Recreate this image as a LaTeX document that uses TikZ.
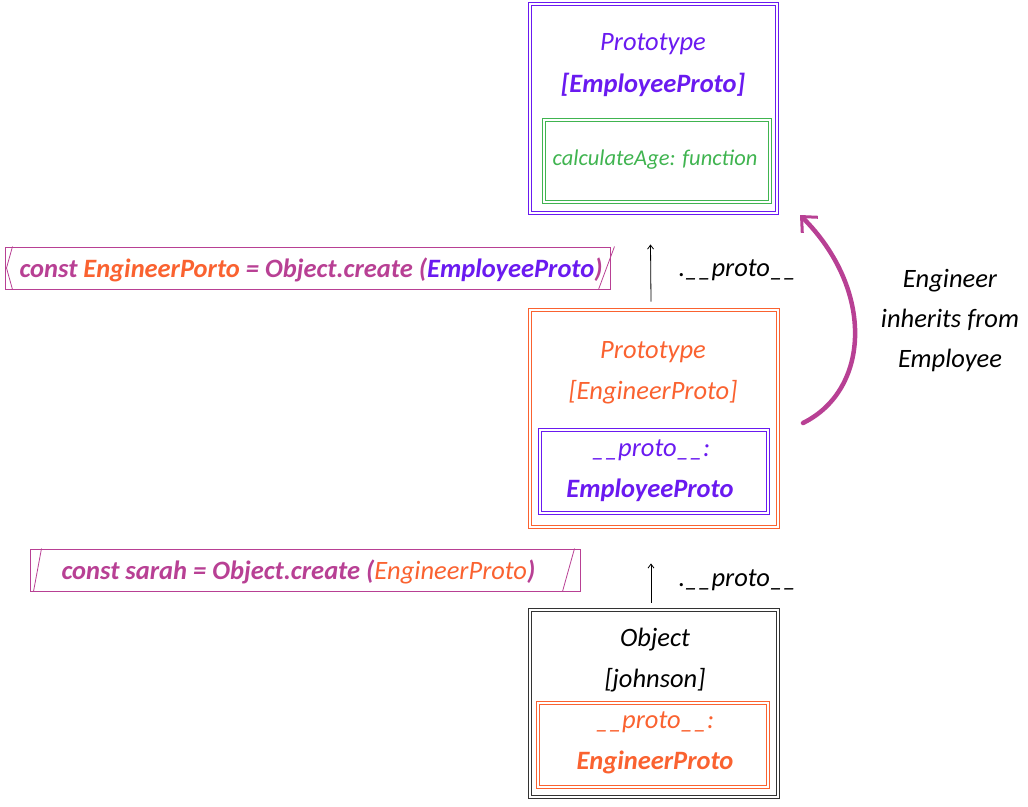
\documentclass[tikz,border=0pt]{standalone}
\usepackage{fontspec}
\setmainfont{Carlito}
\usetikzlibrary{positioning,arrows.meta}

\definecolor{protoviolet}{RGB}{106,26,240}
\definecolor{protogreen}{RGB}{64,180,80}
\definecolor{protoorange}{RGB}{250,98,48}
\definecolor{protopink}{RGB}{184,64,148}

\tikzset{
  hand/.style={font=\fontsize{26.5}{40}\selectfont\itshape},
  small hand/.style={font=\fontsize{22.5}{30}\selectfont\itshape},
  outerbox/.style={draw,double,double distance=2pt,line width=0.9pt,inner sep=0pt},
  innerbox/.style={draw,double,double distance=1.6pt,line width=0.8pt,inner sep=0pt},
  codebar/.style={draw=protopink,line width=1pt,inner sep=0pt,minimum height=42pt},
  protoarrow/.style={-{Straight Barb[length=4pt,width=6pt]},line width=0.8pt}
}

\begin{document}
\begin{tikzpicture}[x=1pt,y=-1pt]
\useasboundingbox (0,0) rectangle (1028,806);

%top box: EmployeeProto
\node[outerbox,draw=protoviolet,minimum width=247pt,minimum height=209pt] (emp) at (653.5,108.5) {};
\node[hand,text=protoviolet] (empa) at (653,44) {Prototype};
\node[hand,text=protoviolet] (empb) at (653,85) {\bfseries [EmployeeProto]};
\node[innerbox,draw=protogreen,minimum width=226pt,minimum height=82pt] (calc) at (657,161) {};
\node[small hand,text=protogreen] (calct) at (655,160) {calculateAge: function};

%middle box: EngineerProto
\node[outerbox,draw=protoorange,minimum width=248pt,minimum height=217pt] (eng) at (654,418.5) {};
\node[hand,text=protoorange] (enga) at (653,352) {Prototype};
\node[hand,text=protoorange] (engb) at (653,392) {[EngineerProto]};
\node[innerbox,draw=protoviolet,minimum width=228pt,minimum height=83pt] (engin) at (654,471.5) {};
\node[hand,text=protoviolet] (engc) at (651,450) {\_\_proto\_\_:};
\node[hand,text=protoviolet] (engd) at (650,490) {\bfseries EmployeeProto};

%bottom box: johnson
\node[outerbox,draw=black!80,minimum width=248pt,minimum height=187pt] (obj) at (654,703.5) {};
\node[hand,text=black] (obja) at (655,640) {Object};
\node[hand,text=black] (objb) at (655,680) {[johnson]};
\node[innerbox,draw=protoorange,minimum width=230pt,minimum height=84pt] (objin) at (653,745) {};
\node[hand,text=protoorange] (objc) at (655,722) {\_\_proto\_\_:};
\node[hand,text=protoorange] (objd) at (655,762) {\bfseries EngineerProto};

%code bars
\node[codebar,minimum width=605pt] (bar1) at (307.5,268) {};
\node[hand,text=protopink,anchor=west] (bar1t) at (16,270)
  {\bfseries const \textcolor{protoorange}{EngineerPorto} = Object.create (\textcolor{protoviolet}{EmployeeProto})};
\draw[protopink,line width=0.8pt] ([xshift=8pt]bar1.north west) -- ([xshift=2pt]bar1.west) -- ([xshift=8pt]bar1.south west);
\draw[protopink,line width=0.8pt] ([xshift=-12pt]bar1.south east) -- ([xshift=4pt]bar1.north east);

\node[codebar,minimum width=550pt] (bar2) at (305,570) {};
\node[hand,text=protopink,anchor=west] (bar2t) at (58,572)
  {\bfseries const sarah = Object.create (\textcolor{protoorange}{\mdseries EngineerProto})};
\draw[protopink,line width=0.8pt] ([xshift=12pt]bar2.north west) -- ([xshift=4pt]bar2.south west);
\draw[protopink,line width=0.8pt] ([xshift=-18pt]bar2.south east) -- ([xshift=-6pt]bar2.north east);

%proto links
\draw[protoarrow] ([xshift=-3pt]eng.north) ++(0,-8) coordinate (a1) -- ([xshift=-3pt,yshift=-31pt]emp.south) coordinate (a2);
\node[hand,anchor=west] (p1) at (675,270) {.\_\_proto\_\_};
\draw[protoarrow] ([xshift=-3pt]obj.north) ++(0,-7) coordinate (b1) -- ([xshift=-3pt,yshift=-36pt]eng.south) coordinate (b2);
\node[hand,anchor=west] (p2) at (675,580) {.\_\_proto\_\_};

%inherits
\coordinate (c1) at (803,423);
\coordinate (c2) at (800,215);
\draw[protopink,line width=4.5pt,line cap=round,-{Straight Barb[length=12pt,width=22pt,line width=3pt]}]
  (c1) .. controls (870,390) and (875,290) .. (c2);
\node[hand,align=center] (inh) at (950,321) {Engineer\\inherits from\\Employee};
\end{tikzpicture}
\end{document}
